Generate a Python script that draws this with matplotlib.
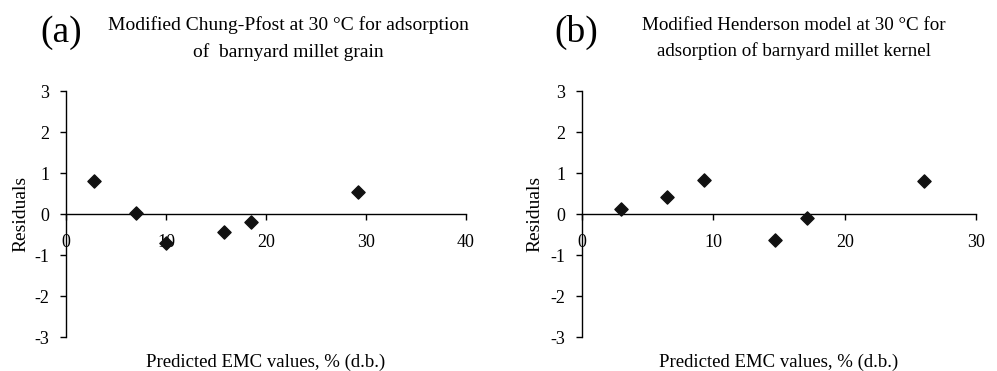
import matplotlib
matplotlib.use("Agg")
import matplotlib.pyplot as plt

plt.rcParams['font.family'] = ['Liberation Serif', 'DejaVu Serif']
plt.rcParams['axes.unicode_minus'] = False

# Panel (a): Modified Chung-Pfost
a_pred = [2.8, 7.0, 10.0, 15.8, 18.5, 29.2]
a_resid = [0.81, 0.04, -0.69, -0.43, -0.20, 0.55]
a_xticks = [0, 10, 20, 30, 40]

# Panel (b): Modified Henderson
b_pred = [3.0, 6.5, 9.3, 14.7, 17.1, 26.0]
b_resid = [0.13, 0.42, 0.84, -0.62, -0.10, 0.80]
b_xticks = [0, 10, 20, 30]

yticks = [-3, -2, -1, 0, 1, 2, 3]

fig = plt.figure(figsize=(9.97, 3.71), dpi=100)

ax_a = fig.add_axes([0.0662, 0.0903, 0.4012, 0.6644])
ax_b = fig.add_axes([0.5838, 0.0903, 0.3952, 0.6644])

def style(ax, xt, ylab_x):
    ax.set_xlim(xt[0], xt[-1])
    ax.set_ylim(-3, 3)
    ax.set_xticks(xt)
    ax.set_yticks(yticks)
    ax.spines['top'].set_visible(False)
    ax.spines['right'].set_visible(False)
    ax.spines['bottom'].set_position(('data', 0))
    for s in ('left', 'bottom'):
        ax.spines[s].set_linewidth(1.0)
        ax.spines[s].set_color('black')
    ax.tick_params(axis='x', direction='out', length=4, width=1.0, pad=10, labelsize=13)
    ax.tick_params(axis='y', direction='out', length=4, width=1.0, pad=8, labelsize=13)
    ax.set_ylabel('Residuals', fontsize=14, va='center')
    ax.yaxis.set_label_coords(ylab_x, 0.5)
    ax.set_xlabel('Predicted EMC values, % (d.b.)', fontsize=13.5, va='center')
    ax.xaxis.set_label_coords(0.5, -0.1)

ax_a.scatter(a_pred, a_resid, marker='D', s=45, color='#111111', zorder=3, clip_on=False)
ax_b.scatter(b_pred, b_resid, marker='D', s=45, color='#111111', zorder=3, clip_on=False)
style(ax_a, a_xticks, -0.114)
style(ax_b, b_xticks, -0.12)

fig.text(0.040, 0.912, '(a)', fontsize=27, va='center', ha='left')
fig.text(0.289, 0.896, 'Modified Chung-Pfost at 30 °C for adsorption\nof  barnyard millet grain',
         fontsize=14, ha='center', va='center', linespacing=1.6)
fig.text(0.578, 0.912, '(b)', fontsize=27, va='center', ha='center')
fig.text(0.796, 0.896, 'Modified Henderson model at 30 °C for\nadsorption of barnyard millet kernel',
         fontsize=13.7, ha='center', va='center', linespacing=1.6)

fig.savefig('out.png', dpi=100)
